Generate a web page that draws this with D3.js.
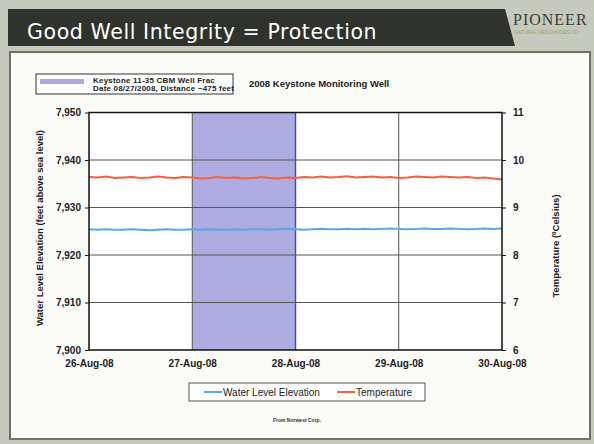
<!DOCTYPE html>
<html>
<head>
<meta charset="utf-8">
<script src="https://cdn.jsdelivr.net/npm/d3@7"></script>
<style>
  body { margin: 0; background: #c6c9bd; }
  svg { display: block; }
</style>
</head>
<body>
<div id="chart"></div>
<script>
// ---- data ----
var days = ["2008-08-26", "2008-08-27", "2008-08-28", "2008-08-29", "2008-08-30"];
var dayLabels = ["26-Aug-08", "27-Aug-08", "28-Aug-08", "29-Aug-08", "30-Aug-08"];
var fracWindow = ["2008-08-27", "2008-08-28"];
var levelTicks = [7900, 7910, 7920, 7930, 7940, 7950];
var tempTicks = [6, 7, 8, 9, 10, 11];
// readings every 2 hours from 26-Aug 00:00 to 30-Aug 00:00
var waterLevel = [7925.4, 7925.3, 7925.4, 7925.3, 7925.3, 7925.4, 7925.3, 7925.2, 7925.3, 7925.4,
  7925.3, 7925.3, 7925.4, 7925.3, 7925.4, 7925.3, 7925.3, 7925.4, 7925.3, 7925.4,
  7925.4, 7925.3, 7925.4, 7925.5, 7925.4, 7925.3, 7925.4, 7925.5, 7925.4, 7925.4,
  7925.5, 7925.4, 7925.5, 7925.4, 7925.5, 7925.6, 7925.5, 7925.4, 7925.5, 7925.6,
  7925.5, 7925.5, 7925.6, 7925.5, 7925.4, 7925.5, 7925.6, 7925.5, 7925.6];
var temperature = [9.64, 9.63, 9.65, 9.62, 9.63, 9.64, 9.62, 9.63, 9.65, 9.63,
  9.62, 9.64, 9.63, 9.61, 9.62, 9.64, 9.62, 9.63, 9.61, 9.62,
  9.64, 9.62, 9.61, 9.63, 9.62, 9.64, 9.63, 9.65, 9.63, 9.64,
  9.66, 9.63, 9.64, 9.65, 9.63, 9.64, 9.62, 9.63, 9.65, 9.64,
  9.63, 9.65, 9.64, 9.63, 9.64, 9.62, 9.63, 9.61, 9.59];

var W = 594, H = 444;
var svg = d3.select("#chart").append("svg")
    .attr("width", W).attr("height", H);

// slide background
svg.append("rect").attr("width", W).attr("height", H).attr("fill", "#c6c9bd");
svg.append("path")
    .attr("d", "M8,9 L505,9 L515,46 L8,46 Z")
    .attr("fill", "#2f322d");
svg.append("text")
    .attr("x", 27).attr("y", 39)
    .attr("fill", "#ffffff")
    .style("font-family", "'DejaVu Sans', sans-serif")
    .style("font-size", "20.5px")
    .style("letter-spacing", "0.6px")
    .text("Good Well Integrity = Protection");
svg.append("text")
    .attr("x", 513).attr("y", 25)
    .attr("fill", "#3a3d38")
    .style("font-family", "'Liberation Serif', serif")
    .style("font-size", "16px")
    .style("letter-spacing", "1px")
    .text("PIONEER");
svg.append("text")
    .attr("x", 514).attr("y", 34)
    .attr("fill", "#9aa36e")
    .style("font-family", "'Liberation Sans', sans-serif")
    .style("font-size", "5px")
    .text("NATURAL RESOURCES CO");

// white content panel
svg.append("rect")
    .attr("x", 10).attr("y", 52).attr("width", 580).attr("height", 387)
    .attr("fill", "#fbfbf8")
    .attr("stroke", "#6f7269").attr("stroke-width", 2);

// ---- chart ----
var margin = { top: 112.5, left: 89, right: 502, bottom: 350 };
var parse = d3.timeParse("%Y-%m-%d");
var x = d3.scaleTime()
    .domain([parse(days[0]), parse(days[days.length - 1])])
    .range([margin.left, margin.right]);
var yL = d3.scaleLinear().domain([7900, 7950]).range([margin.bottom, margin.top]);
var yR = d3.scaleLinear().domain([6, 11]).range([margin.bottom, margin.top]);

var t0 = parse(days[0]).getTime();
function timeAt(i) { return new Date(t0 + i * 2 * 3600 * 1000); }

var font = "'Liberation Sans', Arial, sans-serif";

svg.append("rect")
    .attr("x", margin.left).attr("y", margin.top)
    .attr("width", margin.right - margin.left)
    .attr("height", margin.bottom - margin.top)
    .attr("fill", "#ffffff");

// frac window shading
var f0 = x(parse(fracWindow[0])), f1 = x(parse(fracWindow[1]));
svg.append("rect")
    .attr("x", f0).attr("y", margin.top)
    .attr("width", f1 - f0).attr("height", margin.bottom - margin.top)
    .attr("fill", "#aeabe0");
svg.append("line")
    .attr("x1", f1).attr("x2", f1)
    .attr("y1", margin.top).attr("y2", margin.bottom)
    .attr("stroke", "#4c56c0").attr("stroke-width", 1.5);

// gridlines
svg.append("g").selectAll("line")
    .data(levelTicks.slice(1, -1))
    .enter().append("line")
    .attr("x1", margin.left).attr("x2", margin.right)
    .attr("y1", function (d) { return yL(d); })
    .attr("y2", function (d) { return yL(d); })
    .attr("stroke", "#555").attr("stroke-width", 1);
svg.append("g").selectAll("line")
    .data(days.slice(1, -1))
    .enter().append("line")
    .attr("x1", function (d) { return x(parse(d)); })
    .attr("x2", function (d) { return x(parse(d)); })
    .attr("y1", margin.top).attr("y2", margin.bottom)
    .attr("stroke", "#555").attr("stroke-width", 1);

// series
var lineL = d3.line()
    .x(function (d, i) { return x(timeAt(i)); })
    .y(function (d) { return yL(d); });
var lineR = d3.line()
    .x(function (d, i) { return x(timeAt(i)); })
    .y(function (d) { return yR(d); });
svg.append("path").datum(temperature)
    .attr("d", lineR)
    .attr("fill", "none").attr("stroke", "#f2603f").attr("stroke-width", 2);
svg.append("path").datum(waterLevel)
    .attr("d", lineL)
    .attr("fill", "none").attr("stroke", "#58a9e2").attr("stroke-width", 2);

// frame
svg.append("rect")
    .attr("x", margin.left).attr("y", margin.top)
    .attr("width", margin.right - margin.left)
    .attr("height", margin.bottom - margin.top)
    .attr("fill", "none").attr("stroke", "#111").attr("stroke-width", 1.5);

// axes
var axL = svg.append("g")
    .attr("transform", "translate(" + margin.left + ",0)")
    .call(d3.axisLeft(yL).tickValues(levelTicks).tickFormat(d3.format(",")).tickSize(4).tickPadding(4));
var axR = svg.append("g")
    .attr("transform", "translate(" + margin.right + ",0)")
    .call(d3.axisRight(yR).tickValues(tempTicks).tickFormat(d3.format("d")).tickSize(4).tickPadding(7));
var axB = svg.append("g")
    .attr("transform", "translate(0," + margin.bottom + ")")
    .call(d3.axisBottom(x).tickValues(days.map(parse))
        .tickFormat(function (d, i) { return dayLabels[i]; }).tickSize(0).tickPadding(10));
[axL, axR, axB].forEach(function (a) {
    a.select(".domain").remove();
    a.selectAll("line").attr("stroke", "#111");
    a.selectAll("text")
        .attr("fill", "#222")
        .style("font-family", font)
        .style("font-size", "10px")
        .style("font-weight", "bold");
});

// axis titles
svg.append("text")
    .attr("transform", "translate(43,228) rotate(-90)")
    .attr("text-anchor", "middle")
    .attr("fill", "#222")
    .style("font-family", font).style("font-size", "9.5px").style("font-weight", "bold")
    .text("Water Level Elevation (feet above sea level)");
svg.append("text")
    .attr("transform", "translate(559,246) rotate(-90)")
    .attr("text-anchor", "middle")
    .attr("fill", "#222")
    .style("font-family", font).style("font-size", "9.5px").style("font-weight", "bold")
    .text("Temperature (\u00baCelsius)");

// chart title
svg.append("text")
    .attr("x", 249).attr("y", 87)
    .attr("fill", "#222")
    .style("font-family", font).style("font-size", "9.5px").style("font-weight", "bold")
    .text("2008 Keystone Monitoring Well");

// frac legend
svg.append("rect")
    .attr("x", 36).attr("y", 74).attr("width", 197).attr("height", 20)
    .attr("fill", "#fff").attr("stroke", "#333").attr("stroke-width", 1);
svg.append("rect")
    .attr("x", 40).attr("y", 79).attr("width", 44).attr("height", 5)
    .attr("fill", "#aeabe0");
var fracText = svg.append("text")
    .attr("fill", "#222")
    .style("font-family", font).style("font-size", "8px").style("font-weight", "bold")
    .style("letter-spacing", "0.2px");
fracText.append("tspan").attr("x", 93).attr("y", 83).text("Keystone 11-35 CBM Well Frac");
fracText.append("tspan").attr("x", 93).attr("y", 91).text("Date 08/27/2008, Distance ~475 feet");

// series legend
svg.append("rect")
    .attr("x", 189).attr("y", 383).attr("width", 236).attr("height", 18)
    .attr("fill", "#fff").attr("stroke", "#555").attr("stroke-width", 1);
var legend = [
    { name: "Water Level Elevation", color: "#58a9e2", x: 204 },
    { name: "Temperature", color: "#f2603f", x: 337 }
];
legend.forEach(function (d) {
    svg.append("line")
        .attr("x1", d.x).attr("x2", d.x + 18)
        .attr("y1", 392).attr("y2", 392)
        .attr("stroke", d.color).attr("stroke-width", 2);
    svg.append("text")
        .attr("x", d.x + 19).attr("y", 395.5)
        .attr("fill", "#222")
        .style("font-family", font).style("font-size", "10px")
        .text(d.name);
});

svg.append("text")
    .attr("x", 297).attr("y", 422)
    .attr("text-anchor", "middle")
    .attr("fill", "#333")
    .style("font-family", font).style("font-size", "5px").style("font-weight", "bold")
    .text("From Norwest Corp.");
</script>
</body>
</html>
